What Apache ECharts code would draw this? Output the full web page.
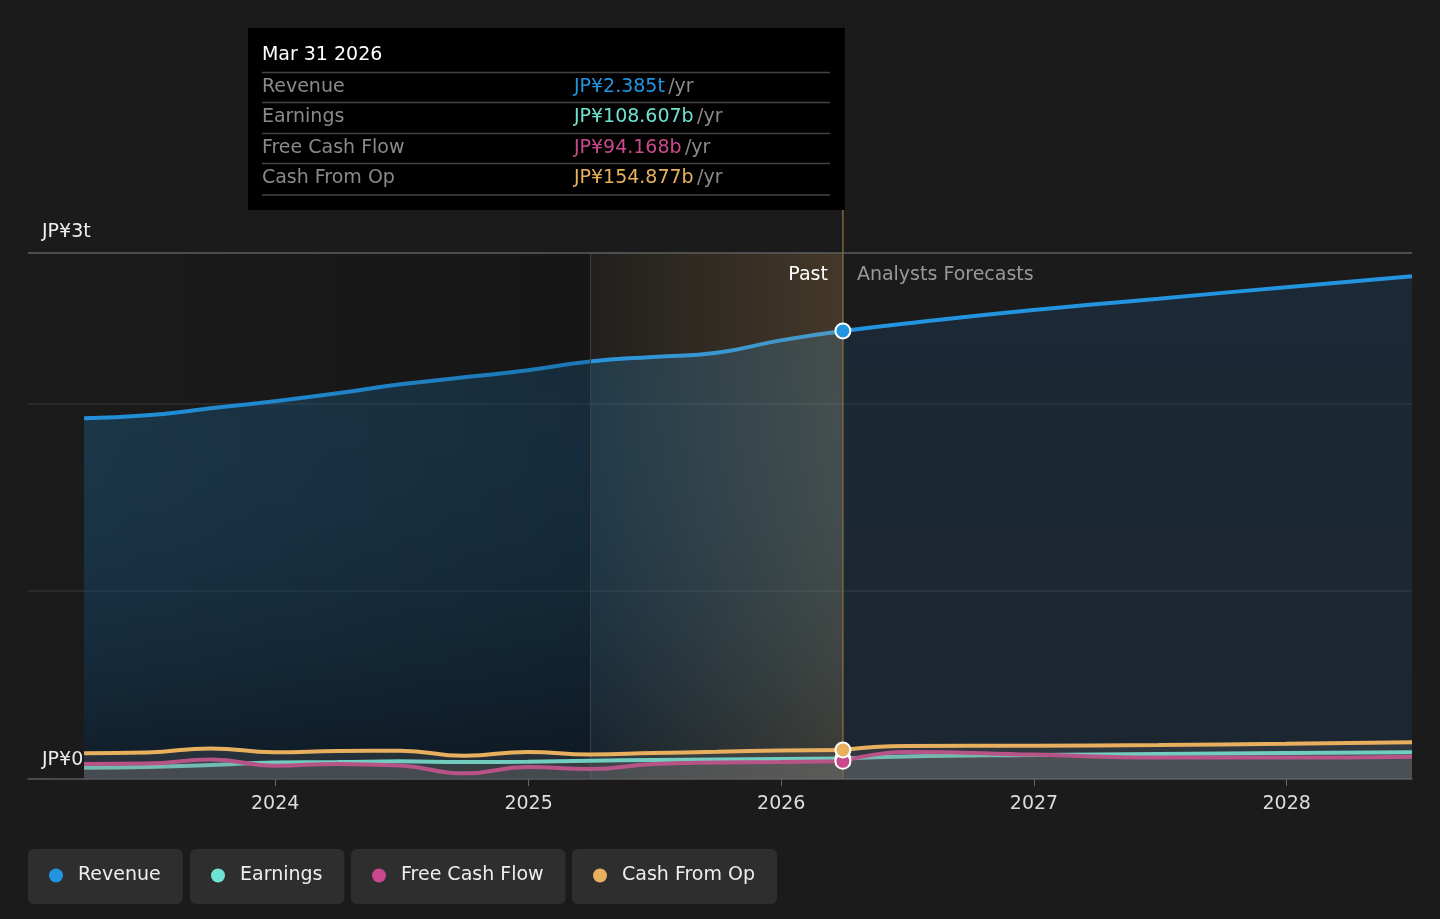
<!DOCTYPE html>
<html lang="en">
<head>
    <meta charset="UTF-8">
    <title>echarts</title>
    <script src="https://cdn.jsdelivr.net/npm/echarts@6/dist/echarts.min.js"></script>
    <style>
        html, body { margin: 0; padding: 0; background: #1b1b1b; }
        #myChart { width: 1440px; height: 919px; }
    </style>
</head>
<body>
<div id="myChart"></div>
<script type="text/javascript">
    // values in JP¥ billions
    var pastDates = ['2023-03-31', '2023-06-30', '2023-09-30', '2023-12-31', '2024-03-31', '2024-06-30', '2024-09-30',
        '2024-12-31', '2025-03-31', '2025-06-30', '2025-09-30', '2025-12-31', '2026-03-31'];
    var forecastDates = ['2026-03-31', '2026-06-30', '2026-12-31', '2027-06-30', '2027-12-31', '2028-06-30'];

    var revenuePast = [1920, 1936, 1973, 2011, 2053, 2101, 2138, 2176, 2223, 2247, 2269, 2335, 2385];
    var revenueForecast = [2385, 2425, 2497, 2557, 2618, 2676];
    var earningsPast = [60, 64, 74, 88, 90, 94, 90, 92, 97, 101, 104, 106, 108.607];
    var earningsForecast = [108.607, 120, 128, 133, 138, 142];
    var fcfPast = [80, 82, 104, 71, 80, 72, 30, 64, 53, 80, 88, 90, 94.168];
    var fcfForecast = [94.168, 144, 130, 114, 114, 119];
    var cfoPast = [137, 141, 163, 142, 149, 151, 124, 144, 131, 138, 145, 152, 154.877];
    var cfoForecast = [154.877, 176, 177, 181, 187, 195];

    var names = ['Revenue', 'Earnings', 'Free Cash Flow', 'Cash From Op'];
    var colors = ['#2394df', '#6fe3d2', '#c9498c', '#e8af5f'];
    var yTicks = ['JP¥0', 'JP¥3t'];

    var xMin = '2023-01-09';
    var xMax = '2028-06-30';
    var bandStart = '2025-03-31';
    var nowDate = '2026-03-31';
    var tipTitle = 'Mar 31 2026';

    var FONT = 'DejaVu Sans';

    function pairs(dates, vals) {
        var out = [];
        for (var i = 0; i < dates.length; i++) {
            out.push([dates[i], vals[i]]);
        }
        return out;
    }

    function fmt(v) {
        if (v >= 1000) {
            return 'JP¥' + (v / 1000).toFixed(3) + 't';
        }
        return 'JP¥' + v.toFixed(3) + 'b';
    }

    function grad(c1, c2) {
        return new echarts.graphic.LinearGradient(0, 0, 0, 1, [
            {offset: 0, color: c1},
            {offset: 1, color: c2}
        ]);
    }

    function lineSeries(name, color, dates, vals, area, z) {
        return {
            name: name,
            type: 'line',
            data: pairs(dates, vals),
            smooth: 0.5,
            symbol: 'none',
            z: z,
            itemStyle: {color: color},
            lineStyle: {color: color, width: 4},
            areaStyle: area,
            emphasis: {disabled: true},
            silent: true
        };
    }

    var smallArea = {color: 'rgba(125,125,125,0.3)'};

    var series = [
        lineSeries(names[0], colors[0], pastDates, revenuePast,
            {color: grad('rgba(35,148,223,0.22)', 'rgba(8,30,50,0.55)'), opacity: 1}, 2),
        lineSeries(names[0], colors[0], forecastDates, revenueForecast,
            {color: grad('rgba(30,70,110,0.32)', 'rgba(30,70,110,0.26)'), opacity: 1}, 2),
        {
            type: 'line',
            data: [],
            z: 3,
            silent: true,
            markArea: {
                silent: true,
                z: 3,
                data: [
                    [{
                        xAxis: xMin,
                        itemStyle: {
                            color: new echarts.graphic.LinearGradient(0, 0, 1, 0, [
                                {offset: 0, color: 'rgba(0,0,0,0)'},
                                {offset: 1, color: 'rgba(0,0,0,0.2)'}
                            ])
                        }
                    }, {xAxis: bandStart}],
                    [{
                        xAxis: bandStart,
                        itemStyle: {
                            color: new echarts.graphic.LinearGradient(0, 0, 1, 0, [
                                {offset: 0, color: 'rgba(230,173,95,0.03)'},
                                {offset: 1, color: 'rgba(230,173,95,0.2)'}
                            ])
                        }
                    }, {xAxis: nowDate}]
                ]
            },
            markLine: {
                silent: true,
                z: 3,
                symbol: 'none',
                label: {show: false},
                data: [
                    {xAxis: bandStart, lineStyle: {color: '#3e3e3e', width: 1, type: 'solid'}},
                    {yAxis: 2800, lineStyle: {color: '#5a5a5a', width: 1.5, type: 'solid'}}
                ]
            }
        },
        lineSeries(names[1], colors[1], pastDates, earningsPast, smallArea, 4),
        lineSeries(names[1], colors[1], forecastDates, earningsForecast, smallArea, 4),
        lineSeries(names[2], colors[2], pastDates, fcfPast, smallArea, 5),
        lineSeries(names[2], colors[2], forecastDates, fcfForecast, smallArea, 5),
        lineSeries(names[3], colors[3], pastDates, cfoPast, smallArea, 6),
        lineSeries(names[3], colors[3], forecastDates, cfoForecast, smallArea, 6),
        {
            type: 'scatter',
            z: 10,
            silent: true,
            symbolSize: 15,
            data: [
                {value: [nowDate, earningsPast[12]], itemStyle: {color: colors[1], borderColor: '#fff', borderWidth: 2, opacity: 1}},
                {value: [nowDate, fcfPast[12]], itemStyle: {color: colors[2], borderColor: '#fff', borderWidth: 2, opacity: 1}},
                {value: [nowDate, cfoPast[12]], itemStyle: {color: colors[3], borderColor: '#fff', borderWidth: 2, opacity: 1}},
                {value: [nowDate, revenuePast[12]], itemStyle: {color: colors[0], borderColor: '#fff', borderWidth: 2, opacity: 1}}
            ]
        }
    ];

    var legendLefts = [28, 190, 351, 572];
    var legends = [];
    for (var i = 0; i < names.length; i++) {
        legends.push({
            data: [names[i]],
            left: legendLefts[i],
            top: 849,
            orient: 'horizontal',
            icon: 'circle',
            itemWidth: 14,
            itemHeight: 14,
            padding: [17, 22, 19, 21],
            backgroundColor: '#2e2e2e',
            borderRadius: 6,
            selectedMode: false,
            textStyle: {color: '#eeeeee', fontSize: 19, fontFamily: FONT, lineHeight: 19, padding: [0, 0, 0, 10]}
        });
    }

    var myChart = echarts.init(document.getElementById('myChart'));
    var option = {
        backgroundColor: '#1b1b1b',
        animation: false,
        textStyle: {fontFamily: FONT},
        grid: {left: 28, right: 28, top: 253, bottom: 140, containLabel: false},
        legend: legends,
        xAxis: {
            type: 'time',
            min: xMin,
            max: xMax,
            minInterval: 365 * 24 * 3600 * 1000,
            axisLine: {lineStyle: {color: '#555', width: 1.5}},
            axisTick: {show: true, length: 7, lineStyle: {color: '#666'}},
            splitLine: {show: false},
            axisLabel: {
                color: '#dddddd',
                fontSize: 19,
                fontFamily: FONT,
                margin: 16,
                formatter: '{yyyy}',
                showMinLabel: false,
                showMaxLabel: false
            }
        },
        yAxis: {
            type: 'value',
            min: 0,
            max: 2800,
            interval: 1000,
            axisLine: {show: false},
            axisTick: {show: false},
            splitLine: {show: true, lineStyle: {color: 'rgba(255,255,255,0.1)', width: 1.5}},
            axisLabel: {
                inside: true,
                margin: 14,
                color: '#eeeeee',
                fontSize: 19,
                fontFamily: FONT,
                verticalAlign: 'bottom',
                padding: [0, 0, 9, 0],
                formatter: function (v) {
                    return v === 0 ? yTicks[0] : '';
                }
            }
        },
        series: series
    };
    myChart.setOption(option);

    // overlays that depend on pixel positions of the "now" line
    var nowX = myChart.convertToPixel({xAxisIndex: 0}, nowDate);
    var plotTop = myChart.convertToPixel({yAxisIndex: 0}, 2800);
    var plotBottom = myChart.convertToPixel({yAxisIndex: 0}, 0);
    var boxW = 597, boxTop = 28, boxBottom = 210;
    var boxL = nowX + 2 - boxW;
    var rowVals = [revenuePast[12], earningsPast[12], fcfPast[12], cfoPast[12]];
    var rowY = [87, 117, 148, 178];
    var sepY = [72.5, 102.5, 133.5, 163.5, 195];
    var txt = '19px "DejaVu Sans"';

    var g = [
        {type: 'line', z: 9, silent: true, shape: {x1: nowX, y1: boxBottom, x2: nowX, y2: plotBottom}, style: {stroke: '#7c6642', lineWidth: 1.5}},
        {type: 'rect', z: 30, silent: true, shape: {x: boxL, y: boxTop, width: boxW, height: boxBottom - boxTop}, style: {fill: '#000'}},
        {type: 'text', z: 31, silent: true, x: boxL + 14, y: 55, style: {text: tipTitle, fill: '#fff', font: txt, verticalAlign: 'middle'}},
        {type: 'text', silent: true, x: 42, y: plotTop - 21, style: {text: yTicks[1], fill: '#eee', font: txt, verticalAlign: 'middle'}},
        {type: 'text', silent: true, z: 20, x: nowX - 15, y: 275, style: {text: 'Past', fill: '#fff', font: txt, align: 'right', verticalAlign: 'middle'}},
        {type: 'text', silent: true, z: 20, x: nowX + 14, y: 275, style: {text: 'Analysts Forecasts', fill: '#999', font: txt, verticalAlign: 'middle'}}
    ];
    for (var s = 0; s < sepY.length; s++) {
        g.push({type: 'line', z: 31, silent: true, shape: {x1: boxL + 14, y1: sepY[s], x2: nowX - 13, y2: sepY[s]}, style: {stroke: '#444', lineWidth: 1.5}});
    }
    for (var r = 0; r < names.length; r++) {
        g.push({type: 'text', z: 31, silent: true, x: boxL + 14, y: rowY[r], style: {text: names[r], fill: '#8a8a8a', font: txt, verticalAlign: 'middle'}});
        g.push({
            type: 'text', z: 31, silent: true, x: boxL + 326, y: rowY[r],
            style: {
                text: '{v|' + fmt(rowVals[r]) + '} {u|/yr}',
                verticalAlign: 'middle',
                rich: {
                    v: {fill: colors[r], font: txt},
                    u: {fill: '#8a8a8a', font: txt}
                }
            }
        });
    }
    myChart.setOption({graphic: g});
</script>
</body>
</html>
